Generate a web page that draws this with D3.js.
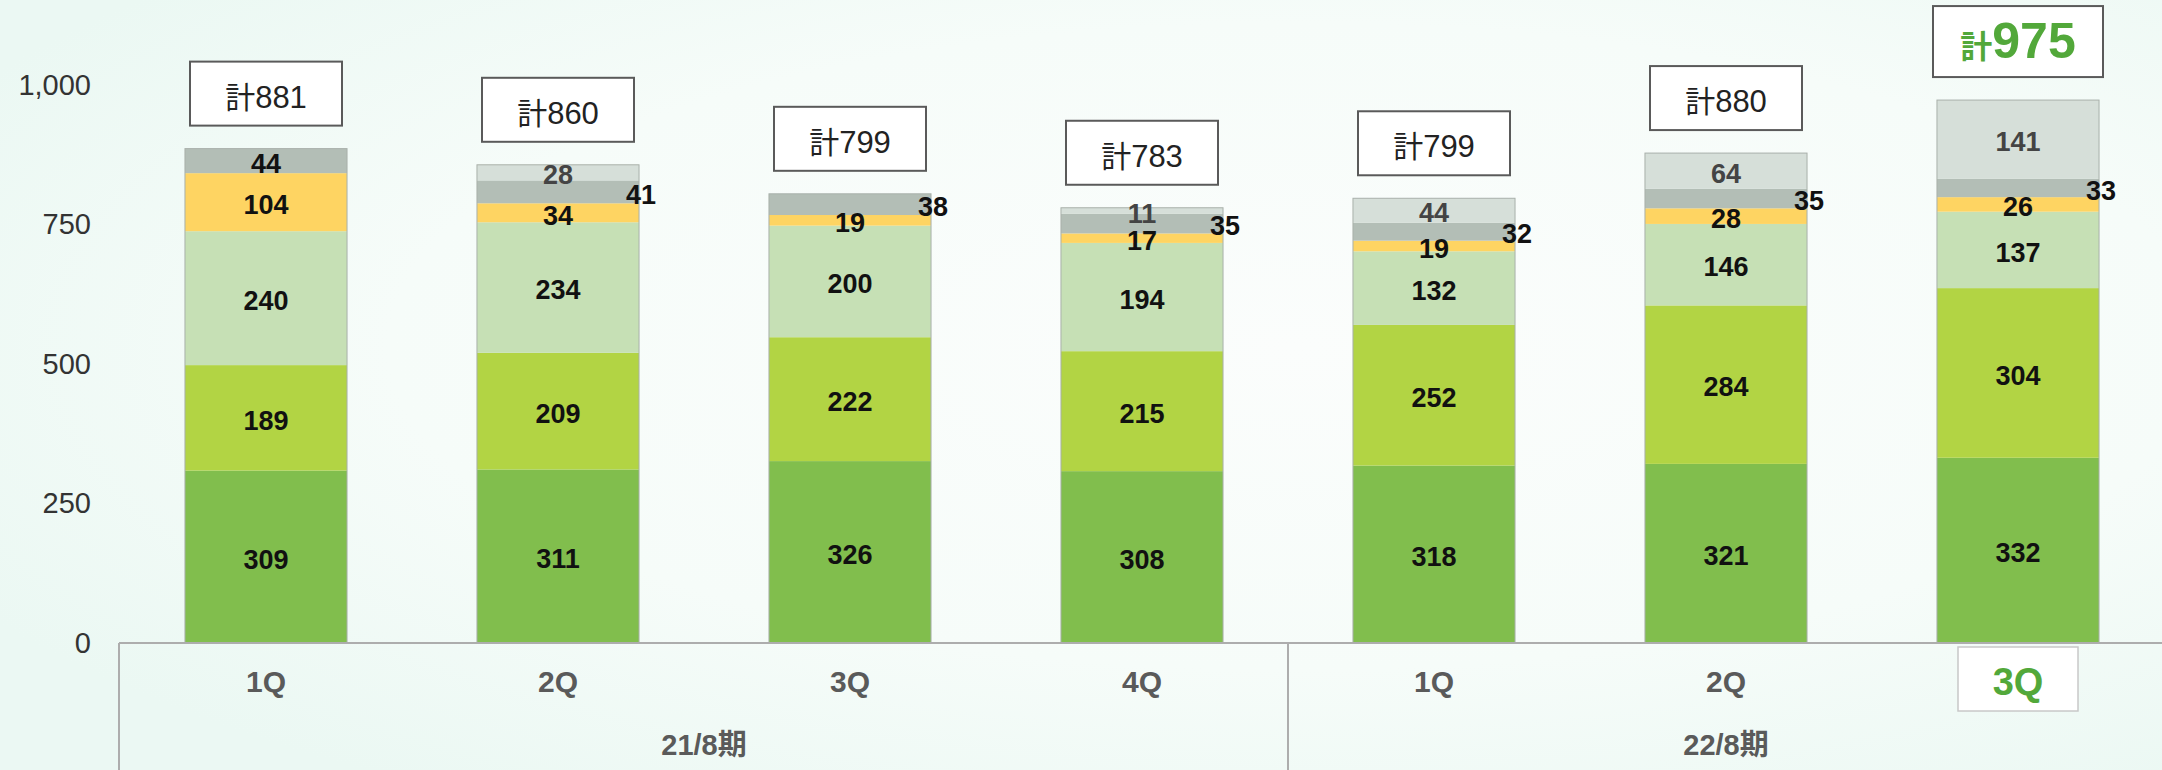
<!DOCTYPE html>
<html>
<head>
<meta charset="utf-8">
<script src="https://cdn.jsdelivr.net/npm/d3@7"></script>
<style>
  body { margin: 0; background: #f3fbf8; }
  svg { display: block; font-family: "Liberation Sans", Arial, "Noto Sans CJK JP", sans-serif; }
</style>
</head>
<body>
<div id="chart-container"></div>
<script>
let width = 2162;
let height = 770;

// data
const periods = ["21/8期", "21/8期", "21/8期", "21/8期", "22/8期", "22/8期", "22/8期"];
const quarters = ["1Q", "2Q", "3Q", "4Q", "1Q", "2Q", "3Q"];
const s1 = [309, 311, 326, 308, 318, 321, 332];
const s2 = [189, 209, 222, 215, 252, 284, 304];
const s3 = [240, 234, 200, 194, 132, 146, 137];
const s4 = [104, 34, 19, 17, 19, 28, 26];
const s5 = [44, 41, 38, 35, 32, 35, 33];
const s6 = [0, 28, 0, 11, 44, 64, 141];
const totals = [881, 860, 799, 783, 799, 880, 975];
const yTicks = [0, 250, 500, 750, 1000];

const seriesKeys = ["s1", "s2", "s3", "s4", "s5", "s6"];
const colors = ["#81be4d", "#b2d444", "#c6e0b5", "#fed462", "#b3beb6", "#d6dfd9"];
const labelColors = ["#111", "#111", "#111", "#111", "#111", "#444"];

const keys = quarters.map((q, i) => periods[i] + "-" + q);
const chartData = keys.map((k, i) => ({
    key: k, period: periods[i], quarter: quarters[i], total: totals[i],
    s1: s1[i], s2: s2[i], s3: s3[i], s4: s4[i], s5: s5[i], s6: s6[i]
}));
const last = keys.length - 1;

const x = d3.scaleBand()
    .domain(keys)
    .range([120, 2164])
    .paddingInner(0.445)
    .paddingOuter(0.2225);

const y = d3.scaleLinear()
    .domain([0, 1000])
    .range([643, 85]);

const stacked = d3.stack().keys(seriesKeys)(chartData);

const svg = d3.select("#chart-container")
    .append("svg")
    .attr("width", width)
    .attr("height", height);

// background
const defs = svg.append("defs");
const grad = defs.append("radialGradient")
    .attr("id", "bg")
    .attr("cx", "60%").attr("cy", "45%").attr("r", "70%");
grad.append("stop").attr("offset", "0%").attr("stop-color", "#fbfdfc");
grad.append("stop").attr("offset", "60%").attr("stop-color", "#f6fcf9");
grad.append("stop").attr("offset", "100%").attr("stop-color", "#ebf8f3");
svg.append("rect").attr("width", width).attr("height", height).attr("fill", "url(#bg)");

// bars
svg.append("g")
    .attr("class", "bars")
    .selectAll("g")
    .data(stacked)
    .join("g")
    .attr("fill", (d, i) => colors[i])
    .selectAll("rect")
    .data(d => d)
    .join("rect")
    .attr("x", d => x(d.data.key))
    .attr("y", d => y(d[1]))
    .attr("height", d => y(d[0]) - y(d[1]))
    .attr("width", x.bandwidth());

// thin outline round each bar
svg.append("g")
    .selectAll("rect")
    .data(chartData)
    .join("rect")
    .attr("x", d => x(d.key))
    .attr("y", d => y(d3.sum(seriesKeys, k => d[k])))
    .attr("width", x.bandwidth())
    .attr("height", d => y(0) - y(d3.sum(seriesKeys, k => d[k])))
    .attr("fill", "none")
    .attr("stroke", "#a9b0aa")
    .attr("stroke-width", 1);

// segment labels
stacked.forEach((layer, si) => {
    svg.append("g")
        .attr("class", "labels-" + layer.key)
        .selectAll("text")
        .data(layer.filter(d => d[1] - d[0] > 0))
        .join("text")
        .attr("x", (d, i) => {
            const idx = keys.indexOf(d.data.key);
            if (layer.key === "s5" && idx !== 0) return x(d.data.key) + x.bandwidth() + 2;
            return x(d.data.key) + x.bandwidth() / 2;
        })
        .attr("y", d => (y(d[0]) + y(d[1])) / 2 + 2)
        .attr("dy", "0.36em")
        .attr("text-anchor", "middle")
        .attr("font-size", 27)
        .attr("font-weight", "bold")
        .attr("fill", labelColors[si])
        .text(d => d[1] - d[0]);
});

// total boxes
const totalG = svg.append("g").attr("class", "totals")
    .selectAll("g")
    .data(chartData)
    .join("g")
    .attr("transform", d => `translate(${x(d.key) + x.bandwidth() / 2},${y(d3.sum(seriesKeys, k => d[k])) - 23})`);

totalG.append("rect")
    .attr("x", (d, i) => i === last ? -85 : -76)
    .attr("y", (d, i) => i === last ? -71 : -64)
    .attr("width", (d, i) => i === last ? 170 : 152)
    .attr("height", (d, i) => i === last ? 71 : 64)
    .attr("fill", "#fff")
    .attr("stroke", "#5a5a5a")
    .attr("stroke-width", 2);

totalG.append("text")
    .attr("text-anchor", "middle")
    .attr("y", (d, i) => i === last ? -19 : -18)
    .attr("fill", (d, i) => i === last ? "#52a83a" : "#222")
    .attr("font-weight", (d, i) => i === last ? "bold" : "normal")
    .each(function(d, i) {
        const t = d3.select(this);
        t.append("tspan")
            .attr("font-family", "'Noto Sans CJK JP', sans-serif")
            .attr("font-size", i === last ? 32 : 30)
            .text("計");
        t.append("tspan")
            .attr("font-size", i === last ? 50 : 31)
            .text(d.total);
    });

// axis frame
const frame = svg.append("g").attr("stroke", "#adadad").attr("stroke-width", 2);
frame.append("line").attr("x1", 119).attr("x2", width).attr("y1", y(0)).attr("y2", y(0));
frame.append("line").attr("x1", 119).attr("x2", 119).attr("y1", y(0)).attr("y2", height);

// highlight box for the latest quarter
svg.append("rect")
    .attr("x", x(keys[last]) + x.bandwidth() / 2 - 60)
    .attr("y", y(0) + 4)
    .attr("width", 120)
    .attr("height", 64)
    .attr("fill", "#fff")
    .attr("stroke", "#c8c8c8")
    .attr("stroke-width", 1.5);

// quarter axis
const xAxis = g => g
    .attr("transform", `translate(0,${y(0)})`)
    .call(d3.axisBottom(x).tickSize(0).tickPadding(28).tickFormat((k, i) => quarters[i]))
    .call(g => g.select(".domain").remove())
    .call(g => g.selectAll("text")
        .attr("font-size", 30)
        .attr("font-weight", "bold")
        .attr("font-family", "'Liberation Sans', Arial, sans-serif")
        .attr("fill", "#5a5a5a"))
    .call(g => g.selectAll(".tick").filter((d, i) => i === last).select("text")
        .attr("font-size", 38)
        .attr("dy", "0.62em")
        .attr("fill", "#52a83a"));

svg.append("g").attr("class", "x-axis").call(xAxis);

// period groups
const periodNames = Array.from(new Set(periods));
const gap = x.step() - x.bandwidth();
const periodSpans = periodNames.map(p => {
    const ks = keys.filter((k, i) => periods[i] === p);
    return {
        name: p,
        x0: x(ks[0]) - gap / 2,
        x1: x(ks[ks.length - 1]) + x.bandwidth() + gap / 2
    };
});

svg.append("g")
    .selectAll("line")
    .data(periodSpans.slice(1))
    .join("line")
    .attr("x1", d => d.x0).attr("x2", d => d.x0)
    .attr("y1", y(0)).attr("y2", height)
    .attr("stroke", "#adadad")
    .attr("stroke-width", 2);

svg.append("g")
    .selectAll("text")
    .data(periodSpans)
    .join("text")
    .attr("x", d => (d.x0 + d.x1) / 2)
    .attr("y", 755)
    .attr("text-anchor", "middle")
    .attr("font-size", 29)
    .attr("font-weight", "bold")
    .attr("fill", "#5a5a5a")
    .text(d => d.name);

// value axis
const yAxis = g => g
    .attr("transform", "translate(91,0)")
    .call(d3.axisLeft(y).tickValues(yTicks).tickSize(0).tickPadding(0).tickFormat(d3.format(",")))
    .call(g => g.select(".domain").remove())
    .call(g => g.selectAll("text")
        .attr("font-size", 29)
        .attr("font-family", "'Liberation Sans', Arial, sans-serif")
        .attr("fill", "#333"));

svg.append("g").attr("class", "y-axis").call(yAxis);
</script>
</body>
</html>
